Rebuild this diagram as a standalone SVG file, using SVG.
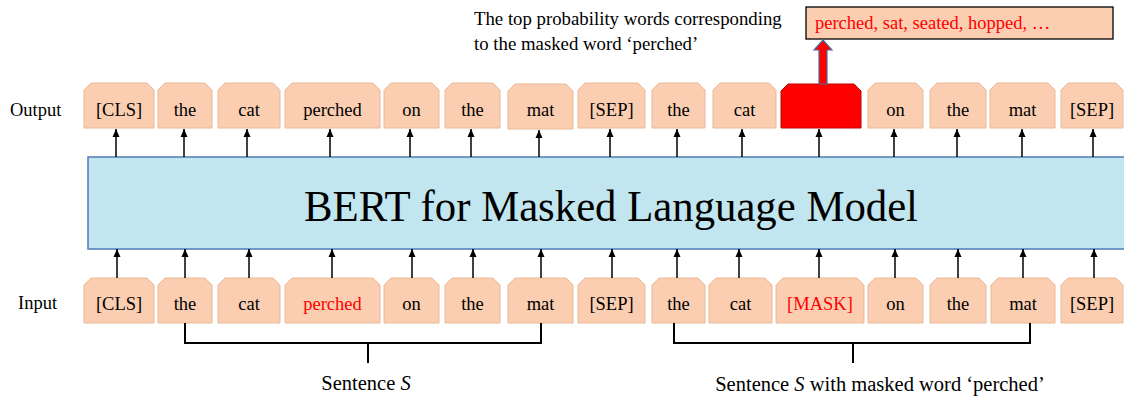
<svg xmlns="http://www.w3.org/2000/svg" width="1124" height="398" viewBox="0 0 1124 398">
<style>
text{font-family:"Liberation Serif","Times New Roman",serif;font-size:18.5px;fill:#000}
.c{text-anchor:middle}
.red{fill:#ff0000}
.big{font-size:20.5px}
.tok{fill:#fbceb1;stroke:#e9b997;stroke-width:1}
.ar{stroke:#000;stroke-width:1.5;fill:none;marker-end:url(#ah)}
.br{stroke:#000;stroke-width:2;fill:none}
</style>
<defs>
<marker id="ah" markerUnits="userSpaceOnUse" markerWidth="8" markerHeight="8" refX="8" refY="4" orient="auto">
<path d="M0,0.5 L8,4 L0,7.5 z" fill="#000"/>
</marker>
</defs>
<rect width="1124" height="398" fill="#fff"/>

<g id="labels">
<text x="10" y="116">Output</text>
<text x="18" y="309">Input</text>
<text x="474" y="25" style="font-size:18.8px">The top probability words corresponding</text>
<text x="474" y="50" style="font-size:18.8px">to the masked word ‘perched’</text>
<text class="c big" x="366" y="390">Sentence <tspan font-style="italic">S</tspan></text>
<text class="c big" x="880" y="391">Sentence <tspan font-style="italic">S</tspan> with masked word ‘perched’</text>
</g>

<g id="bert">
<rect x="88" y="157" width="1040" height="92" fill="#c2e6ef" stroke="#4f7bb4" stroke-width="1.5"/>
<text class="c" x="611" y="221" style="font-size:45px" textLength="614" lengthAdjust="spacingAndGlyphs">BERT for Masked Language Model</text>
</g>

<g id="topbox">
<rect x="806" y="7" width="307" height="32" fill="#fbceb1" stroke="#000" stroke-width="1.3"/>
<text class="red" x="815" y="29">perched, sat, seated, hopped, …</text>
</g>

<g id="output-tokens">
<g id="o1"><path class="tok" d="M84,128V90L91,83H147L154,90V128Z"/><text class="c" x="119" y="115.5">[CLS]</text></g>
<g id="o2"><path class="tok" d="M158,128V90L165,83H205L212,90V128Z"/><text class="c" x="185" y="115.5">the</text></g>
<g id="o3"><path class="tok" d="M218,128V90L225,83H273L280,90V128Z"/><text class="c" x="249" y="115.5">cat</text></g>
<g id="o4"><path class="tok" d="M285,128V90L292,83H373L380,90V128Z"/><text class="c" x="332.5" y="115.5">perched</text></g>
<g id="o5"><path class="tok" d="M384,128V90L391,83H432L439,90V128Z"/><text class="c" x="411.5" y="115.5">on</text></g>
<g id="o6"><path class="tok" d="M445,128V90L452,83H493L500,90V128Z"/><text class="c" x="472.5" y="115.5">the</text></g>
<g id="o7"><path class="tok" d="M508,129V91L515,84H566L573,91V129Z"/><text class="c" x="540.5" y="115.5">mat</text></g>
<g id="o8"><path class="tok" d="M578,128V90L585,83H638L645,90V128Z"/><text class="c" x="611.5" y="115.5">[SEP]</text></g>
<g id="o9"><path class="tok" d="M652,128V90L659,83H698L705,90V128Z"/><text class="c" x="678.5" y="115.5">the</text></g>
<g id="o10"><path class="tok" d="M713,128V90L720,83H769L776,90V128Z"/><text class="c" x="744.5" y="115.5">cat</text></g>
<g id="o11"><path d="M781,128V91L788,84H854L861,91V128Z" fill="#ff0000" stroke="#c00000" stroke-width="1"/></g>
<g id="o12"><path class="tok" d="M868,128V90L875,83H916L923,90V128Z"/><text class="c" x="895.5" y="115.5">on</text></g>
<g id="o13"><path class="tok" d="M930,128V90L937,83H979L986,90V128Z"/><text class="c" x="958" y="115.5">the</text></g>
<g id="o14"><path class="tok" d="M990,128V90L997,83H1048L1055,90V128Z"/><text class="c" x="1022.5" y="115.5">mat</text></g>
<g id="o15"><path class="tok" d="M1061,128V90L1068,83H1116L1123,90V128Z"/><text class="c" x="1092" y="115.5">[SEP]</text></g>
</g>

<g id="input-tokens">
<g id="i1"><path class="tok" d="M84,323V285L91,278H147L154,285V323Z"/><text class="c" x="119" y="310">[CLS]</text></g>
<g id="i2"><path class="tok" d="M158,323V285L165,278H205L212,285V323Z"/><text class="c" x="185" y="310">the</text></g>
<g id="i3"><path class="tok" d="M218,323V285L225,278H273L280,285V323Z"/><text class="c" x="249" y="310">cat</text></g>
<g id="i4"><path class="tok" d="M285,323V285L292,278H373L380,285V323Z"/><text class="c red" x="332.5" y="310">perched</text></g>
<g id="i5"><path class="tok" d="M384,323V285L391,278H432L439,285V323Z"/><text class="c" x="411.5" y="310">on</text></g>
<g id="i6"><path class="tok" d="M445,323V285L452,278H493L500,285V323Z"/><text class="c" x="472.5" y="310">the</text></g>
<g id="i7"><path class="tok" d="M508,323V285L515,278H566L573,285V323Z"/><text class="c" x="540.5" y="310">mat</text></g>
<g id="i8"><path class="tok" d="M578,323V285L585,278H638L645,285V323Z"/><text class="c" x="611.5" y="310">[SEP]</text></g>
<g id="i9"><path class="tok" d="M652,323V285L659,278H698L705,285V323Z"/><text class="c" x="678.5" y="310">the</text></g>
<g id="i10"><path class="tok" d="M709,323V285L716,278H765L772,285V323Z"/><text class="c" x="740.5" y="310">cat</text></g>
<g id="i11"><path class="tok" d="M776,323V285L783,278H857L864,285V323Z"/><text class="c red" x="820" y="310">[MASK]</text></g>
<g id="i12"><path class="tok" d="M868,323V285L875,278H916L923,285V323Z"/><text class="c" x="895.5" y="310">on</text></g>
<g id="i13"><path class="tok" d="M930,323V285L937,278H979L986,285V323Z"/><text class="c" x="958" y="310">the</text></g>
<g id="i14"><path class="tok" d="M991,323V285L998,278H1048L1055,285V323Z"/><text class="c" x="1023" y="310">mat</text></g>
<g id="i15"><path class="tok" d="M1061,323V285L1068,278H1116L1123,285V323Z"/><text class="c" x="1092" y="310">[SEP]</text></g>
</g>

<g id="connectors">
<path class="ar" d="M116,157V129"/>
<path class="ar" d="M184,157V129"/>
<path class="ar" d="M247,157V129"/>
<path class="ar" d="M330,157V129"/>
<path class="ar" d="M410,157V129"/>
<path class="ar" d="M471,157V129"/>
<path class="ar" d="M539,157V130"/>
<path class="ar" d="M610,157V129"/>
<path class="ar" d="M677,157V129"/>
<path class="ar" d="M742,157V129"/>
<path class="ar" d="M819,157V129"/>
<path class="ar" d="M894,157V129"/>
<path class="ar" d="M957,157V129"/>
<path class="ar" d="M1022,157V129"/>
<path class="ar" d="M1093,157V129"/>

<path class="ar" d="M117,278V249"/>
<path class="ar" d="M185,278V249"/>
<path class="ar" d="M249,278V249"/>
<path class="ar" d="M332,278V249"/>
<path class="ar" d="M412,278V249"/>
<path class="ar" d="M473,278V249"/>
<path class="ar" d="M541,278V249"/>
<path class="ar" d="M612,278V249"/>
<path class="ar" d="M677,278V249"/>
<path class="ar" d="M739,278V249"/>
<path class="ar" d="M819,278V249"/>
<path class="ar" d="M895,278V249"/>
<path class="ar" d="M958,278V249"/>
<path class="ar" d="M1023,278V249"/>
<path class="ar" d="M1094,278V249"/>

<path d="M819,84V50H814L823,40L832,50H827V84Z" fill="#ff0000" stroke="#4f6b9a" stroke-width="1.2"/>

<path class="br" d="M185,323V343H541V323"/>
<path class="br" d="M368,343V363"/>
<path class="br" d="M674,323V343H1030V323"/>
<path class="br" d="M853,343V363"/>
</g>
</svg>
